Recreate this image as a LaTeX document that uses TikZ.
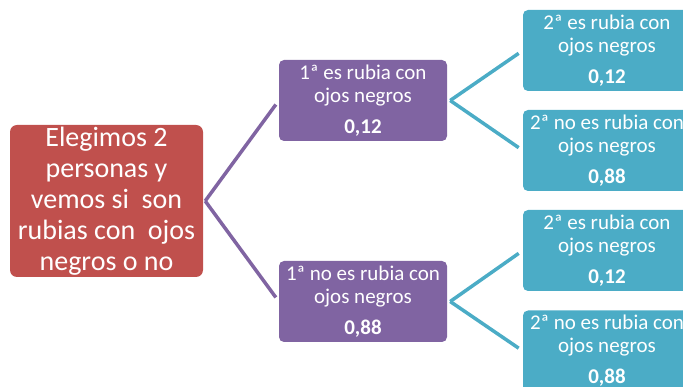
\documentclass[tikz,border=0pt]{standalone}
\usepackage{fontspec}
\setmainfont{Carlito}
\definecolor{redbox}{HTML}{C0504D}
\definecolor{purplebox}{HTML}{8064A2}
\definecolor{tealbox}{HTML}{4BACC6}
\begin{document}
\begin{tikzpicture}[x=1pt,y=-1pt,
  rootbox/.style={fill=redbox,draw=none,rounded corners=7pt,minimum width=193pt,minimum height=152pt,text=white,align=center,inner sep=0pt,font=\fontsize{28}{31}\selectfont},
  firstbox/.style={fill=purplebox,draw=none,rounded corners=5pt,minimum width=168pt,minimum height=81pt,text=white,align=center,inner sep=0pt,font=\fontsize{21}{23}\selectfont},
  secondbox/.style={fill=tealbox,draw=none,rounded corners=5pt,minimum width=168pt,minimum height=81pt,text=white,align=center,inner sep=0pt,font=\fontsize{21}{23}\selectfont},
  purpleline/.style={draw=purplebox,line width=3.5pt,shorten >=5pt},
  tealline/.style={draw=tealbox,line width=3.5pt,shorten >=5pt}]
\useasboundingbox (0,0) rectangle (683,387);
\node[rootbox] (root) at (106.5,201) {Elegimos 2\\personas y\\vemos si\ \ son\\rubias con\ \ ojos\\negros o no};
\node[firstbox] (p1) at (363,100.5) {1ª es rubia con\\ojos negros\\[8pt]\textbf{0,12}};
\node[firstbox] (p2) at (363,301.5) {1ª no es rubia con\\ojos negros\\[8pt]\textbf{0,88}};
\node[secondbox] (s1) at (607,50.5) {2ª es rubia con\\ojos negros\\[8pt]\textbf{0,12}};
\node[secondbox] (s2) at (607,150.5) {2ª no es rubia con\\ojos negros\\[8pt]\textbf{0,88}};
\node[secondbox] (s3) at (607,250.5) {2ª es rubia con\\ojos negros\\[8pt]\textbf{0,12}};
\node[secondbox] (s4) at (607,351) {2ª no es rubia con\\ojos negros\\[8pt]\textbf{0,88}};
\draw[purpleline] ([xshift=2pt]root.east) -- (p1.west);
\draw[purpleline] ([xshift=2pt]root.east) -- (p2.west);
\draw[tealline] ([xshift=3pt]p1.east) -- (s1.west);
\draw[tealline] ([xshift=3pt]p1.east) -- (s2.west);
\draw[tealline] ([xshift=3pt]p2.east) -- (s3.west);
\draw[tealline] ([xshift=3pt]p2.east) -- (s4.west);
\end{tikzpicture}
\end{document}
